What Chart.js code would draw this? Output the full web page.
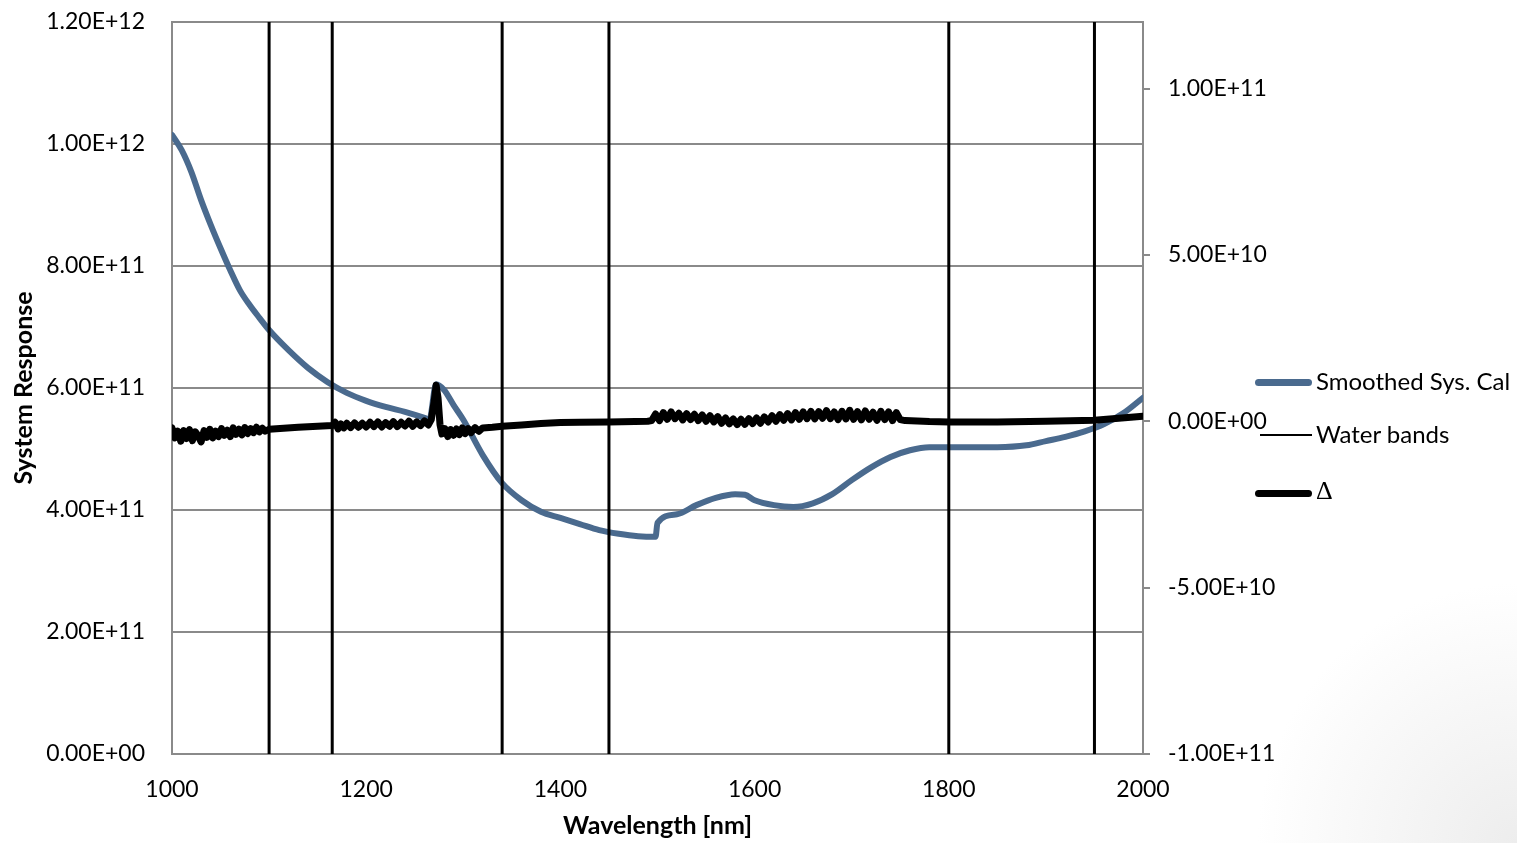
<!DOCTYPE html>
<html lang="en">
<head>
  <meta charset="UTF-8">
  <title>System Response</title>
  <script src="https://cdn.jsdelivr.net/npm/chart.js"></script>
  <style>
    html, body { margin: 0; padding: 0; }
    body {
      width: 1517px; height: 843px; overflow: hidden;
      background: radial-gradient(circle at 100% 100%, #ededed 0, #ffffff 260px);
      font-family: Lato, sans-serif;
    }
    #wrap { position: relative; width: 1517px; height: 843px; }
    #legend { position: absolute; left: 1255px; top: 0; }
    .item { position: absolute; left: 0; white-space: nowrap; font-size: 24px; color: #000; }
    .swatch { position: absolute; left: 0; width: 57px; border-radius: 4px; }
    .label { position: absolute; left: 61px; }
  </style>
</head>
<body>
<div id="wrap">
  <canvas id="chart"></canvas>
  <div id="legend"></div>
</div>

<script>
  // Smoothed system calibration (left axis)
  const calNm = [1000, 1010, 1020, 1030, 1040, 1050, 1060, 1070, 1080, 1090, 1100, 1120, 1140, 1160, 1180,
    1200, 1220, 1240, 1260, 1265, 1272, 1280, 1290, 1300, 1320, 1340, 1360, 1380, 1400, 1420, 1440, 1460,
    1480, 1498, 1500, 1520, 1540, 1560, 1580, 1590, 1600, 1620, 1640, 1660, 1680, 1700, 1720, 1740, 1760,
    1780, 1800, 1850, 1880, 1900, 1920, 1940, 1960, 1980, 2000];
  const calVal = [1.015e12, 9.9e11, 9.54e11, 9.08e11, 8.67e11, 8.29e11, 7.93e11, 7.6e11, 7.36e11, 7.15e11,
    6.95e11, 6.62e11, 6.33e11, 6.1e11, 5.92e11, 5.79e11, 5.69e11, 5.61e11, 5.51e11, 5.48e11, 6.06e11,
    5.97e11, 5.72e11, 5.48e11, 4.9e11, 4.44e11, 4.16e11, 3.97e11, 3.87e11, 3.77e11, 3.67e11, 3.61e11,
    3.57e11, 3.56e11, 3.79e11, 3.93e11, 4.08e11, 4.2e11, 4.26e11, 4.25e11, 4.16e11, 4.08e11, 4.05e11,
    4.11e11, 4.26e11, 4.49e11, 4.7e11, 4.87e11, 4.98e11, 5.03e11, 5.03e11, 5.03e11, 5.06e11, 5.13e11,
    5.2e11, 5.29e11, 5.41e11, 5.59e11, 5.84e11];

  // water band positions [nm]
  const waterBands = [1100, 1165, 1340, 1450, 1800, 1950];

  // delta (right axis), values in units of 1e9
  const deltaNm = [1000, 1003, 1006, 1009, 1012, 1015, 1018, 1021, 1024, 1027, 1030, 1033, 1036, 1039, 1042,
    1045, 1048, 1051, 1054, 1057, 1060, 1063, 1066, 1069, 1072, 1075, 1078, 1081, 1084, 1087, 1090, 1093,
    1096, 1100, 1130, 1165, 1168, 1171, 1174, 1177, 1180, 1184, 1188, 1192, 1196, 1200, 1204, 1208, 1212,
    1216, 1220, 1224, 1228, 1232, 1236, 1240, 1244, 1248, 1252, 1256, 1260, 1264, 1267, 1270, 1272, 1274,
    1276, 1278, 1281, 1284, 1287, 1290, 1293, 1296, 1299, 1302, 1305, 1308, 1312, 1316, 1320, 1330, 1340,
    1360, 1380, 1400, 1420, 1450, 1490, 1494, 1498, 1502, 1506, 1510, 1514, 1518, 1522, 1526, 1530, 1534,
    1538, 1542, 1546, 1550, 1554, 1558, 1562, 1566, 1570, 1574, 1578, 1582, 1586, 1590, 1594, 1598, 1602,
    1606, 1610, 1614, 1618, 1622, 1626, 1630, 1634, 1638, 1642, 1646, 1650, 1654, 1658, 1662, 1666, 1670,
    1674, 1678, 1682, 1686, 1690, 1694, 1698, 1702, 1706, 1710, 1714, 1718, 1722, 1726, 1730, 1734, 1738,
    1742, 1746, 1750, 1755, 1780, 1800, 1850, 1900, 1950, 1975, 2000];
  const deltaVal = [-2.0, -5.0, -3.0, -6.0, -2.8, -5.2, -2.5, -5.8, -3.2, -4.4, -6.2, -2.8, -4.8, -2.4, -5.0,
    -3.0, -4.6, -2.2, -4.2, -2.7, -4.6, -2.0, -3.9, -2.4, -4.1, -1.9, -3.7, -2.2, -3.4, -1.8, -3.2, -2.1,
    -3.0, -2.4, -1.8, -1.3, -0.3, -2.3, -0.8, -2.0, -0.6, -1.9, -0.5, -1.8, -0.6, -1.7, -0.3, -1.6, -0.2,
    -1.7, -0.4, -1.5, -0.1, -1.6, -0.3, -1.4, 0.0, -1.5, -0.2, -1.3, 0.1, -1.1, 0.5, 6.0, 10.8, 7.0,
    -1.0, -3.8, -2.2, -4.6, -2.5, -4.2, -2.3, -4.0, -2.0, -3.7, -2.2, -3.4, -1.9, -3.0, -2.0, -1.8, -1.5,
    -1.1, -0.7, -0.4, -0.3, -0.2, 0.0, 0.2, 2.2, 0.2, 2.6, 0.6, 2.8, 0.8, 2.4, 0.4, 2.3, 0.5,
    2.1, 0.2, 1.9, 0.0, 1.7, -0.2, 1.4, -0.6, 1.0, -0.8, 0.7, -1.0, 0.6, -0.9, 0.8, -0.7, 1.0,
    -0.6, 1.3, -0.2, 1.7, 0.0, 2.0, 0.3, 2.3, 0.4, 2.6, 0.6, 2.8, 0.8, 3.0, 0.7, 2.9, 0.9,
    3.2, 0.8, 2.8, 0.5, 3.0, 0.7, 3.3, 0.6, 2.9, 0.4, 3.1, 0.6, 2.7, 0.3, 3.0, 0.5, 2.8,
    0.2, 2.6, 0.5, 0.2, -0.1, -0.2, -0.2, 0.0, 0.3, 0.9, 1.5];

  // axis ticks
  const xTicks = [1000, 1200, 1400, 1600, 1800, 2000];
  const leftTicks = [0, 2e11, 4e11, 6e11, 8e11, 1e12, 1.2e12];
  const rightTicks = [-1e11, -5e10, 0, 5e10, 1e11];

  function sci(v) {
    if (v === 0) return '0.00E+00';
    const e = Math.floor(Math.log10(Math.abs(v)) + 1e-9);
    const m = v / Math.pow(10, e);
    return m.toFixed(2) + 'E' + (e < 0 ? '-' : '+') + String(Math.abs(e)).padStart(2, '0');
  }

  const calPoints = calNm.map((x, i) => ({ x: x, y: calVal[i] }));
  const deltaPoints = deltaNm.map((x, i) => ({ x: x, y: deltaVal[i] * 1e9 }));
  const waterPoints = [];
  waterBands.forEach(w => {
    waterPoints.push({ x: w, y: 0 }, { x: w, y: 1.2e12 }, { x: w, y: null });
  });

  const BLUE = '#4A6A8E';
  const GRID = '#8a8a8a';
  const tickFont = { family: 'Lato', size: 23 };
  const titleFont = { family: 'Lato', size: 25, weight: 'bold' };

  // fixed box sizes so the plot area sits where the spreadsheet put it
  function fitVertical(width) {
    return s => { s.width = width; s.paddingTop = 0; s.paddingBottom = 0; };
  }

  const datasets = [
    { label: 'Δ', data: deltaPoints, yAxisID: 'y1', borderColor: '#000', borderWidth: 7,
      tension: 0, order: 0 },
    { label: 'Water bands', data: waterPoints, yAxisID: 'y', borderColor: '#000', borderWidth: 3,
      spanGaps: false, order: 1 },
    { label: 'Smoothed Sys. Cal', data: calPoints, yAxisID: 'y', borderColor: BLUE, borderWidth: 6,
      cubicInterpolationMode: 'monotone', order: 2 }
  ];

  const chart = new Chart(document.getElementById('chart'), {
    type: 'line',
    data: { datasets: datasets },
    options: {
      responsive: true,
      maintainAspectRatio: false,
      animation: false,
      layout: { padding: { top: 22, left: 0, right: 0, bottom: 0 } },
      elements: { point: { radius: 0 }, line: { borderCapStyle: 'round', borderJoinStyle: 'round' } },
      plugins: { legend: { display: false }, tooltip: { enabled: false } },
      scales: {
        x: {
          type: 'linear', min: 1000, max: 2000,
          afterBuildTicks: s => { s.ticks = xTicks.map(v => ({ value: v })); },
          afterFit: s => { s.height = 89; },
          grid: { display: false },
          border: { display: true, color: GRID, width: 2 },
          ticks: { color: '#000', font: tickFont, padding: 14, callback: v => String(v) },
          title: { display: true, text: 'Wavelength [nm]', color: '#000', font: titleFont, padding: { top: 0, bottom: 2 } }
        },
        y: {
          position: 'left', min: 0, max: 1.2e12,
          afterBuildTicks: s => { s.ticks = leftTicks.map(v => ({ value: v })); },
          afterFit: fitVertical(172),
          grid: { color: GRID, lineWidth: 2, drawTicks: false },
          border: { display: true, color: GRID, width: 2 },
          ticks: { color: '#000', font: tickFont, padding: 27, callback: v => sci(v) },
          title: { display: true, text: 'System Response', color: '#000', font: titleFont, padding: { top: 9, bottom: 0 } }
        },
        y1: {
          position: 'right', min: -1e11, max: 1.2e11,
          afterBuildTicks: s => { s.ticks = rightTicks.map(v => ({ value: v })); },
          afterFit: fitVertical(374),
          grid: { drawOnChartArea: false, drawTicks: true, tickLength: 7, color: GRID, lineWidth: 2 },
          border: { display: true, color: GRID, width: 2 },
          ticks: { color: '#000', font: tickFont, padding: 18, callback: v => sci(v) }
        }
      }
    }
  });

  // legend like the spreadsheet one, built from the datasets
  const legendRows = [
    { ds: datasets[2], top: 382, thick: 7 },
    { ds: datasets[1], top: 435, thick: 2 },
    { ds: datasets[0], top: 493, thick: 7 }
  ];
  const legend = document.getElementById('legend');
  legendRows.forEach(r => {
    const item = document.createElement('div');
    item.className = 'item';
    item.style.top = r.top + 'px';
    const sw = document.createElement('span');
    sw.className = 'swatch';
    sw.style.background = r.ds.borderColor;
    sw.style.height = r.thick + 'px';
    sw.style.top = (-r.thick / 2) + 'px';
    if (r.thick < 4) { sw.style.left = '5px'; sw.style.width = '52px'; sw.style.borderRadius = '0'; }
    const lb = document.createElement('span');
    lb.className = 'label';
    lb.textContent = r.ds.label;
    lb.style.top = '-16px';
    if (r.ds.label === 'Δ') {
      lb.style.fontFamily = '"Liberation Serif", serif';
      lb.style.fontSize = '26px';
      lb.style.top = '-17px';
    }
    item.appendChild(sw);
    item.appendChild(lb);
    legend.appendChild(item);
  });
</script>
</body>
</html>
